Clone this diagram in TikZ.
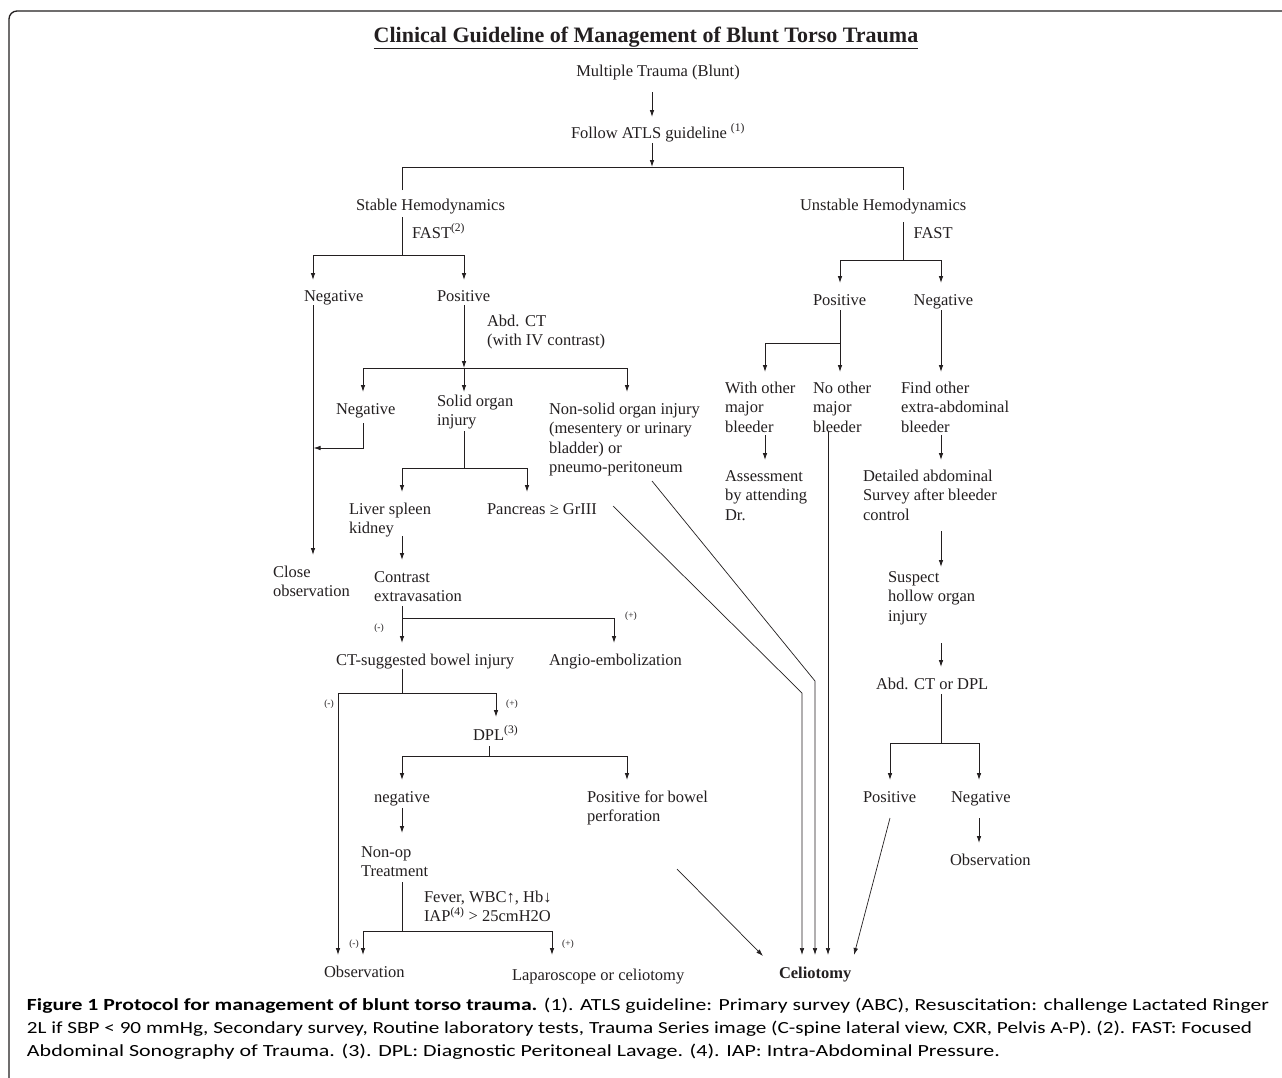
\documentclass[tikz,border=0pt]{standalone}
\usepackage{fontspec}
\setmainfont{Liberation Serif}
\newfontfamily\capfont{Carlito}
\usepackage{graphicx}
\usetikzlibrary{arrows.meta}
\definecolor{ink}{HTML}{231F20}
\newsavebox\capboxA
\newsavebox\capboxB
\newsavebox\capboxC
\begin{document}
\sbox\capboxA{\capfont\fontsize{17}{20}\selectfont\textbf{Figure 1 Protocol for management of blunt torso trauma.} (1). ATLS guideline: Primary survey (ABC), Resuscitation: challenge Lactated Ringer}%
\sbox\capboxB{\capfont\fontsize{17}{20}\selectfont 2L if SBP < 90 mmHg, Secondary survey, Routine laboratory tests, Trauma Series image (C-spine lateral view, CXR, Pelvis A-P). (2). FAST: Focused}%
\sbox\capboxC{\capfont\fontsize{17}{20}\selectfont Abdominal Sonography of Trauma. (3). DPL: Diagnostic Peritoneal Lavage. (4). IAP: Intra-Abdominal Pressure.}%
\pgfmathsetmacro\capsxA{1242/\the\wd\capboxA}%
\pgfmathsetmacro\capsxB{1225/\the\wd\capboxB}%
\pgfmathsetmacro\capsxC{973/\the\wd\capboxC}%
\begin{tikzpicture}[x=1pt,y=-1pt,
  font=\fontsize{16.5}{19.5}\selectfont, color=ink,
  every node/.style={inner sep=0pt,outer sep=0pt},
  lbl/.style={anchor=base west,align=left},
  ctr/.style={anchor=base},
  sm/.style={font=\fontsize{9.5}{11}\selectfont,anchor=center},
  ln/.style={line width=0.9pt},
  arr/.style={line width=0.9pt,-{Latex[length=7pt,width=4.6pt]}},
  diag/.style={line width=0.7pt,-{Latex[length=7pt,width=4.6pt]}}]
\useasboundingbox (0,0) rectangle (1282,1077);
\clip (0,0) rectangle (1282,1077);
\fill[white] (0,0) rectangle (1282,1077);
% frame
\draw[line width=1.3pt,rounded corners=8] (9,1100) -- (9,11) -- (1300,11);

% title
\node[ctr] (title) at (646,42) {\fontsize{22}{26}\selectfont\bfseries\underline{Clinical Guideline of Management of Blunt Torso Trauma}};

% ---- text nodes (anchor = baseline of last line)
\node[ctr] (mt) at (658,76) {Multiple Trauma (Blunt)};
\node[lbl] (atls) at (571,138) {Follow ATLS guideline \textsuperscript{(1)}};
\node[lbl] (stab) at (356,210) {Stable Hemodynamics};
\node[lbl] (unst) at (800,210) {Unstable Hemodynamics};
\node[lbl] (fast1) at (412,238) {FAST\textsuperscript{(2)}};
\node[lbl] (fast2) at (913.6,238) {FAST};
\node[lbl] (neg1) at (304,301) {Negative};
\node[lbl] (pos1) at (437,301) {Positive};
\node[lbl] (abdct) at (487,345.5) {Abd. CT\\(with IV contrast)};
\node[lbl] (neg2) at (336,414) {Negative};
\node[lbl] (solid) at (437,425.5) {Solid organ\\injury};
\node[lbl] (nonsolid) at (549,472.5) {Non-solid organ injury\\(mesentery or urinary\\bladder) or\\pneumo-peritoneum};
\node[lbl] (liver) at (349,533.5) {Liver spleen\\kidney};
\node[lbl] (panc) at (487,514) {Pancreas ≥ GrIII};
\node[lbl] (closeobs) at (273,596.5) {Close\\observation};
\node[lbl] (contrast) at (374,601.5) {Contrast\\extravasation};
\node[lbl] (ctb) at (336,665) {CT-suggested bowel injury};
\node[lbl] (angio) at (549,665) {Angio-embolization};
\node[lbl] (dpl) at (473,740) {DPL\textsuperscript{(3)}};
\node[lbl] (negl) at (374,802) {negative};
\node[lbl] (posbowel) at (587,821.5) {Positive for bowel\\perforation};
\node[lbl] (nonop) at (361,876.5) {Non-op\\Treatment};
\node[lbl] (fever) at (424,921.5) {Fever, WBC↑, Hb↓\\IAP\textsuperscript{(4)} > 25cmH2O};
\node[lbl] (obs1) at (324,977) {Observation};
\node[lbl] (lap) at (512,980) {Laparoscope or celiotomy};
\node[lbl] (celi) at (779,978) {\textbf{Celiotomy}};
\node[lbl] (pos2) at (813,305) {Positive};
\node[lbl] (neg3) at (913.6,305) {Negative};
\node[lbl] (withother) at (725,432) {With other\\major\\bleeder};
\node[lbl] (noother) at (813,432) {No other\\major\\bleeder};
\node[lbl] (findother) at (901,432) {Find other\\extra-abdominal\\bleeder};
\node[lbl] (assess) at (725,520) {Assessment\\by attending\\Dr.};
\node[lbl] (detailed) at (863,520) {Detailed abdominal\\Survey after bleeder\\control};
\node[lbl] (suspect) at (888,621) {Suspect\\hollow organ\\injury};
\node[lbl] (abdctdpl) at (876,689) {Abd. CT or DPL};
\node[lbl] (pos3) at (863,802) {Positive};
\node[lbl] (neg4) at (951,802) {Negative};
\node[lbl] (obs2) at (950,865) {Observation};

% small labels
\node[sm] (m1) at (379,628) {(-)};
\node[sm] (p1) at (631,616) {(+)};
\node[sm] (m2) at (329,704) {(-)};
\node[sm] (p2) at (512,704) {(+)};
\node[sm] (m3) at (354,944) {(-)};
\node[sm] (p3) at (568,944) {(+)};

% ---- connectors (left / top)
\draw[arr] (652,92) -- (652,117);
\draw[arr] (652,143) -- (652,167);
\draw[ln] (402,190) -- (402,167) -- (903.5,167) -- (903.5,190);
\draw[ln] (402,217) -- (402,255);
\draw[arr] (402,255) -| (313,280);
\draw[arr] (402,255) -| (464,280);
\draw[arr] (313,305) -- (313,555);
\draw[arr] (464,305) -- (464,368);
\draw[arr] (464,368) -| (363,392);
\draw[arr] (464,368) -| (627,392);
\draw[arr] (464,368) -- (464,392);
\draw[arr] (363,423) |- (313.5,448);
\draw[ln] (464,431) -- (464,468);
\draw[arr] (464,468) -| (402,492);
\draw[arr] (464,468) -| (527,492);
\draw[arr] (402,536) -- (402,560);
\draw[arr] (402,606) -- (402,643);
\draw[arr] (402,618) -| (614,643);
\draw[ln] (402,669) -- (402,693);
\draw[arr] (402,693) -| (338,955);
\draw[arr] (402,693) -| (496,717);
\draw[ln] (489,746) -- (489,756);
\draw[arr] (489,756) -| (402,780);
\draw[arr] (489,756) -| (627,780);
\draw[arr] (402,808) -- (402,833);
\draw[ln] (402,882) -- (402,931);
\draw[arr] (402,931) -| (363,955);
\draw[arr] (402,931) -| (552,955);

% ---- to celiotomy
\draw[diag] (677,869) -- (763,956);
\draw[diag] (613,506) -- (802,693) -- (802,955);
\draw[diag] (652,481) -- (815,681) -- (815,955);
\draw[diag] (828,432) -- (828,955);
\draw[diag] (890,818) -- (854,955);

% ---- right side
\draw[ln] (903.5,222) -- (903.5,260);
\draw[arr] (903.5,260) -| (840,283);
\draw[arr] (903.5,260) -| (941,283);
\draw[arr] (840,310) -- (840,372);
\draw[arr] (840,343) -| (765,372);
\draw[arr] (941,310) -- (941,372);
\draw[arr] (765,435) -- (765,460);
\draw[arr] (941,435) -- (941,460);
\draw[arr] (941,531) -- (941,567);
\draw[arr] (941,643) -- (941,667);
\draw[ln] (941,694) -- (941,743);
\draw[arr] (941,743) -| (890,780);
\draw[arr] (941,743) -| (979,780);
\draw[arr] (979,818) -- (979,843);

% ---- caption
\node[anchor=base west] (cap1) at (27,1010) {\scalebox{\capsxA}[1]{\usebox\capboxA}};
\node[anchor=base west] (cap2) at (27,1033) {\scalebox{\capsxB}[1]{\usebox\capboxB}};
\node[anchor=base west] (cap3) at (27,1056) {\scalebox{\capsxC}[1]{\usebox\capboxC}};
\end{tikzpicture}
\end{document}
